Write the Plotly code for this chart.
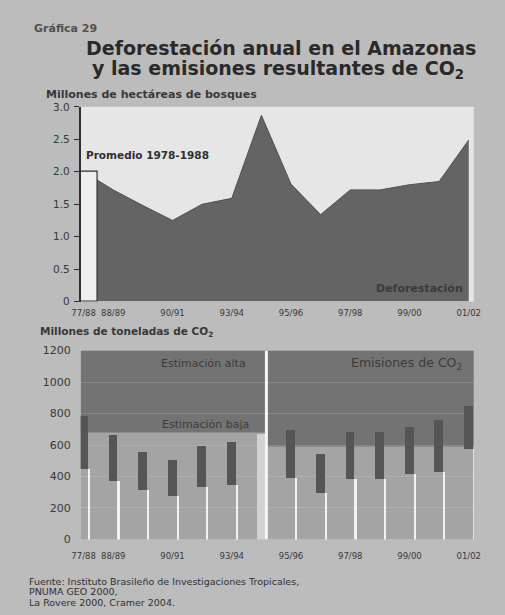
import plotly.graph_objects as go

# ---------------- data ----------------
periodos = ["77/88", "88/89", "89/90", "90/91", "91/92", "93/94", "94/95",
            "95/96", "96/97", "97/98", "98/99", "99/00", "00/01", "01/02"]
# millones de hectáreas deforestadas (77/88 = promedio 1978-1988)
deforestacion = [2.0, 1.72, 1.48, 1.25, 1.50, 1.59, 2.87,
                 1.81, 1.34, 1.72, 1.72, 1.80, 1.85, 2.49]
# emisiones de CO2 (millones de toneladas): estimación baja / alta
emis_baja = [448, 373, 317, 280, 336, 348, None, 392, 298, 386, 386, 417, 429, 575]
emis_alta = [790, 665, 560, 510, 597, 622, None, 696, 547, 684, 684, 715, 759, 850]
emis_9495 = 670
banda_alta_izq = 680
banda_alta_der = 590
ticks_x = ["77/88", "88/89", "90/91", "93/94", "95/96", "97/98", "99/00", "01/02"]
ticks_y1 = [0, 0.5, 1.0, 1.5, 2.0, 2.5, 3.0]
ticks_y1_txt = ["0", "0.5", "1.0", "1.5", "2.0", "2.5", "3.0"]
ticks_y2 = [0, 200, 400, 600, 800, 1000, 1200]

# ---------------- helpers ----------------
W, H = 505, 615
FONT = "DejaVu Sans"
TXT = "#333333"


def px(x):
    return x / W


def py(y):
    return 1 - y / H


idx = list(range(len(periodos)))
tick_idx = [periodos.index(t) for t in ticks_x]
XR = [-0.1, 13.17]
i9495 = periodos.index("94/95")

fig = go.Figure()

# ---- top chart: deforestation area ----
fig.add_trace(go.Scatter(
    x=idx, y=deforestacion, mode="lines", fill="tozeroy",
    line=dict(color="#505050", width=1), fillcolor="#646464",
    xaxis="x", yaxis="y", hoverinfo="skip", showlegend=False))
# average bar 1978-1988 (on overlay axes, drawn above the area)
fig.add_trace(go.Bar(
    x=[idx[0]], y=[deforestacion[0]], width=0.6, offset=-0.12,
    marker=dict(color="#eeeeee", line=dict(color="#303030", width=1.2)),
    xaxis="x3", yaxis="y3", showlegend=False, hoverinfo="skip"))

# ---- bottom chart ----
sx = [i for i in idx if emis_baja[i] is not None]
sb = [emis_baja[i] for i in sx]
sh = [emis_alta[i] - emis_baja[i] for i in sx]
# range strips
fig.add_trace(go.Bar(
    x=sx, y=sh, base=sb, width=0.3, offset=-0.17,
    marker=dict(color="#555555", line=dict(width=0)),
    xaxis="x2", yaxis="y2", showlegend=False, hoverinfo="skip"))
# white separators up to the low estimate
fig.add_trace(go.Bar(
    x=sx, y=sb, width=0.07, offset=0.13,
    marker=dict(color="#f2f2f2", line=dict(width=0)),
    xaxis="x2", yaxis="y2", showlegend=False, hoverinfo="skip"))
# 94/95 light bar
fig.add_trace(go.Bar(
    x=[i9495], y=[emis_9495], width=0.28, offset=-0.15,
    marker=dict(color="#d2d2d2", line=dict(width=0)),
    xaxis="x2", yaxis="y2", showlegend=False, hoverinfo="skip"))

shapes = [
    # bottom plot background
    dict(type="rect", xref="x2 domain", yref="y2 domain", x0=0, x1=1, y0=0, y1=1,
         fillcolor="#a4a4a4", line=dict(width=0), layer="below"),
    # dark "estimación alta" band
    dict(type="rect", xref="x2", yref="y2", x0=XR[0], x1=i9495 + 0.17,
         y0=banda_alta_izq, y1=1200, fillcolor="#737373", line=dict(width=0), layer="below"),
    dict(type="rect", xref="x2", yref="y2", x0=i9495 + 0.17, x1=XR[1],
         y0=banda_alta_der, y1=1200, fillcolor="#737373", line=dict(width=0), layer="below"),
    # full-height white divider
    dict(type="line", xref="x2", yref="y2", x0=i9495 + 0.17, x1=i9495 + 0.17,
         y0=0, y1=1200, line=dict(color="#f4f4f4", width=3), layer="above"),
]


def ann(text, x, y, size=10, color=TXT, weight=400, xanchor="left", family=FONT):
    return dict(text=text, x=px(x), y=py(y), xref="paper", yref="paper",
                xanchor=xanchor, yanchor="middle", showarrow=False, borderpad=0,
                font=dict(family=family, size=size, color=color, weight=weight))


annotations = [
    ann("Gráfica 29", 25, 23, size=11, color="#505050", weight=700),
    ann("Deforestación anual en el Amazonas", 281, 43, size=19, color="#2a2a2a",
        weight=700, xanchor="center"),
    ann("y las emisiones resultantes de CO<sub>2</sub>", 278, 65, size=19, color="#2a2a2a",
        weight=700, xanchor="center"),
    ann("Millones de hectáreas de bosques", 37, 90, size=11, weight=700, color="#383838"),
    ann("Promedio 1978-1988", 79, 152, size=10.5, weight=700, color="#303030"),
    ann("Deforestación", 424, 289, size=11, weight=700, color="#3a3a3a", xanchor="center"),
    ann("Millones de toneladas de CO<sub>2</sub>", 31, 333, size=10.5, weight=700, color="#383838"),
    ann("Estimación alta", 201, 365, size=11, color="#3c3c3c", xanchor="center"),
    ann("Emisiones de CO<sub>2</sub>", 411, 365, size=12.5, color="#3c3c3c", xanchor="center"),
    ann("Estimación baja", 203, 428, size=11, color="#3c3c3c", xanchor="center"),
    ann("Fuente: Instituto Brasileño de Investigaciones Tropicales,", 20, 588, size=9.5, color="#303030"),
    ann("PNUMA GEO 2000,", 20, 598.5, size=9.5, color="#303030"),
    ann("La Rovere 2000, Cramer 2004.", 20, 609, size=9.5, color="#303030"),
]

tickfont_x = dict(family=FONT, size=8.5, color="#383838")
tickfont_y = dict(family=FONT, size=10.5, color="#383838")

fig.update_layout(
    width=W,
    margin=dict(l=0, r=0, t=0, b=0),
    paper_bgcolor="#bcbcbc",
    plot_bgcolor="#e6e6e6",
    barmode="overlay",
    bargap=0,
    showlegend=False,
    shapes=shapes,
    annotations=annotations,
    xaxis=dict(domain=[px(74), px(480)], range=XR, anchor="y",
               tickmode="array", tickvals=tick_idx, ticktext=ticks_x,
               tickfont=tickfont_x, ticks="", showgrid=False, zeroline=False,
               showline=False, ticklabelstandoff=5),
    yaxis=dict(domain=[py(302), py(103)], range=[0, 3], anchor="x",
               tickmode="array", tickvals=ticks_y1, ticktext=ticks_y1_txt,
               tickfont=tickfont_y, ticks="outside", ticklen=5, tickcolor="#303030",
               tickwidth=1.2, showline=True, linecolor="#303030", linewidth=1.5,
               showgrid=False, zeroline=False, ticklabelstandoff=2),
    xaxis3=dict(overlaying="x", range=XR, visible=False, anchor="y3"),
    yaxis3=dict(overlaying="y", range=[0, 3], visible=False, anchor="x3"),
    xaxis2=dict(domain=[px(74), px(480)], range=XR, anchor="y2",
                tickmode="array", tickvals=tick_idx, ticktext=ticks_x,
                tickfont=tickfont_x, ticks="", showgrid=False, zeroline=False,
                showline=False, ticklabelstandoff=10),
    yaxis2=dict(domain=[py(545), py(352)], range=[0, 1200], anchor="x2",
                tickmode="array", tickvals=ticks_y2,
                tickfont=dict(family=FONT, size=11, color="#383838"),
                ticks="", showgrid=True, gridcolor="rgba(215,215,215,0.22)",
                gridwidth=1, zeroline=False, showline=False, ticklabelstandoff=9),
)

# the graph div is pinned to the page's top-left corner at 505x615
fig.write_html(
    "out.html", config={"displayModeBar": False},
    default_height="615px; position:absolute; left:0; top:0",
    post_script=("document.body.style.margin='0';"
                 "document.body.style.background='#bcbcbc';"))
